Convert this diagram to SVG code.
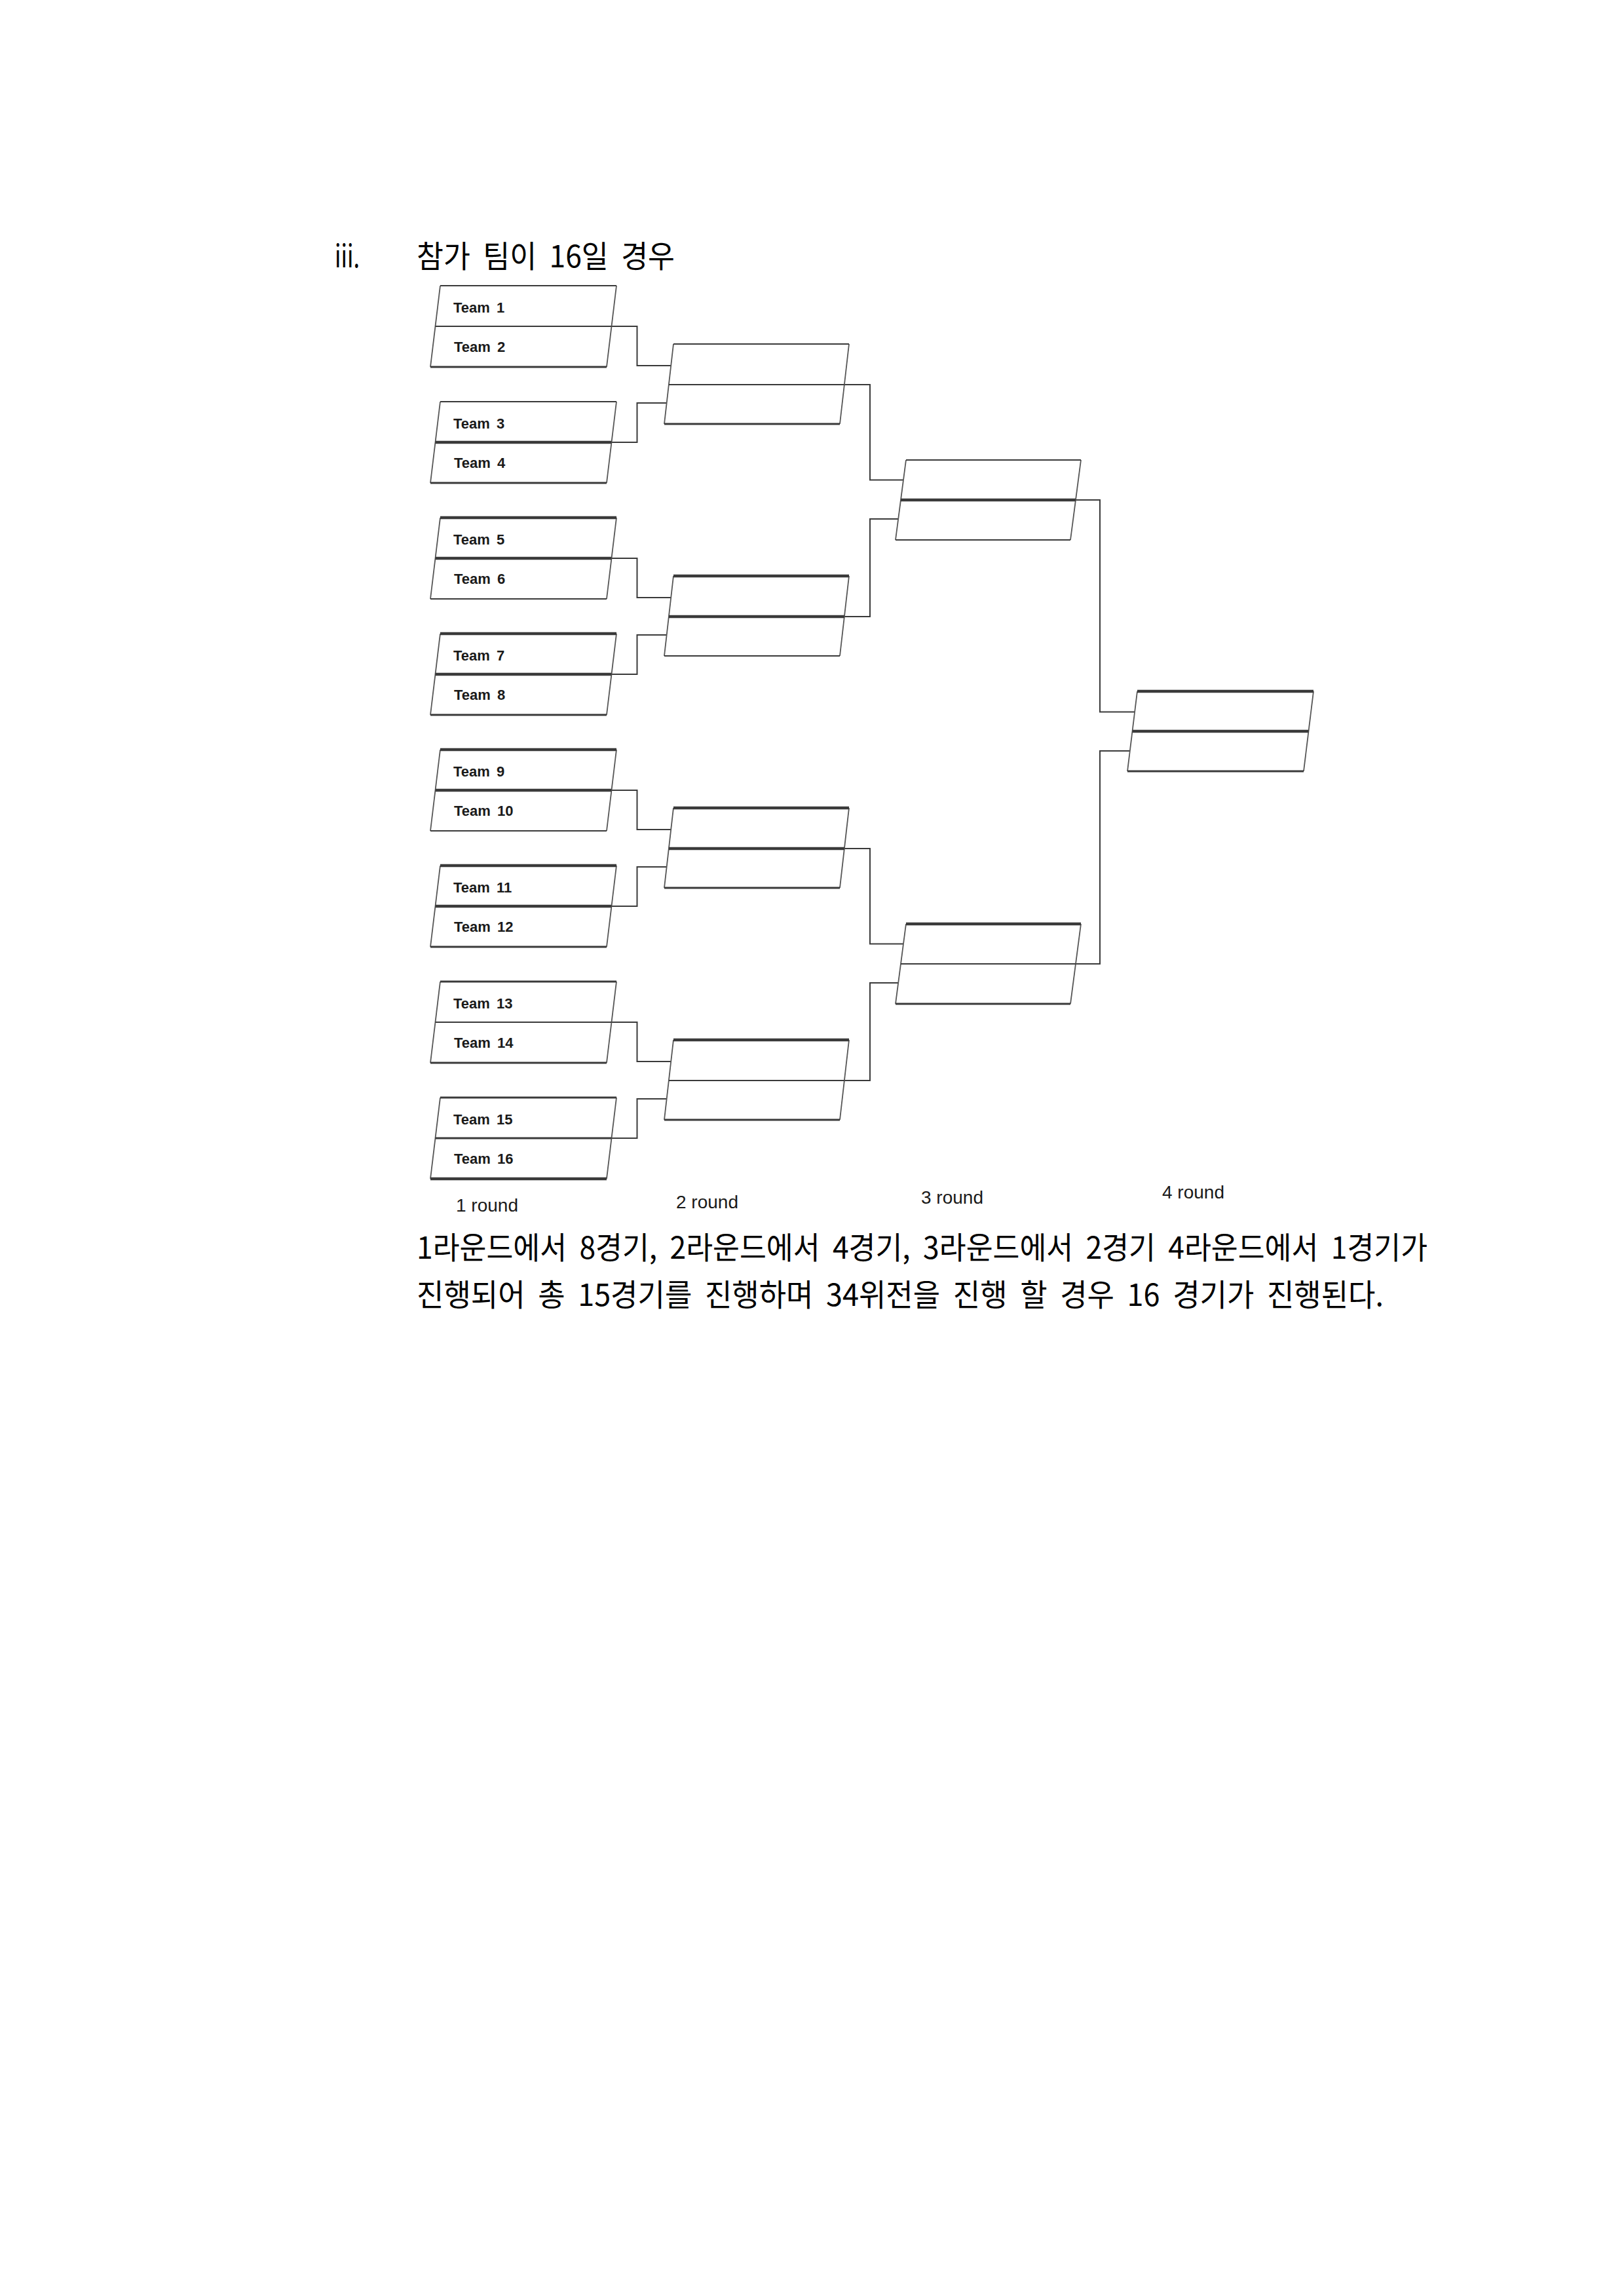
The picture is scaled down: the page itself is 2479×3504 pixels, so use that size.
<svg xmlns="http://www.w3.org/2000/svg" width="2479" height="3504" viewBox="0 0 2479 3504">
<style>
line,path{stroke:#3a3a3a;fill:none}
.n{stroke-width:2}
.m{stroke-width:3}
.t{stroke-width:4.5}
.s{stroke-width:1.8;stroke:#555}
.c{stroke-width:2}
.team{font-family:"Liberation Sans",Arial,sans-serif;font-weight:bold;font-size:22px;word-spacing:4px;fill:#1a1a1a}
.rnd{font-family:"Liberation Sans",Arial,sans-serif;font-size:28px;fill:#1a1a1a}
.ko{font-family:"Noto Sans CJK KR","Noto Sans",sans-serif;font-size:47px;word-spacing:10px;fill:#000}
</style>
<rect width="2479" height="3504" fill="#fff"/>
<g id="heading">
<text class="ko" x="511" y="408" textLength="38" lengthAdjust="spacingAndGlyphs">iii.</text>
<text class="ko" x="636" y="408" textLength="394" lengthAdjust="spacingAndGlyphs">참가 팀이 16일 경우</text>
</g>
<g id="connectors">
<path class="c" d="M933.5,498H972.5V558H1024.2"/>
<path class="c" d="M933.5,675H972.5V615H1017.7"/>
<path class="c" d="M933.5,852H972.5V912H1024.2"/>
<path class="c" d="M933.5,1029H972.5V969H1017.7"/>
<path class="c" d="M933.5,1206H972.5V1266H1024.2"/>
<path class="c" d="M933.5,1383H972.5V1323H1017.7"/>
<path class="c" d="M933.5,1560H972.5V1620H1024.2"/>
<path class="c" d="M933.5,1737H972.5V1677H1017.7"/>
<path class="c" d="M1288.9,587H1328V732.5H1379"/>
<path class="c" d="M1288.9,941H1328V792H1371.2"/>
<path class="c" d="M1288.9,1295H1328V1440.5H1379"/>
<path class="c" d="M1288.9,1649H1328V1500H1371.2"/>
<path class="c" d="M1642,763H1679V1086.5H1732"/>
<path class="c" d="M1642,1471H1679V1146H1725"/>
</g>
<g id="r1-m1">
<line class="s" x1="672" y1="436" x2="657" y2="560"/><line class="s" x1="941" y1="436" x2="926" y2="560"/>
<line class="n" x1="672" y1="436" x2="941" y2="436"/><line class="n" x1="664.5" y1="498" x2="933.5" y2="498"/><line class="m" x1="657" y1="560" x2="926" y2="560"/>
<text class="team" x="692" y="477">Team 1</text><text class="team" x="693" y="537">Team 2</text>
</g>
<g id="r1-m2">
<line class="s" x1="672" y1="613" x2="657" y2="737"/><line class="s" x1="941" y1="613" x2="926" y2="737"/>
<line class="n" x1="672" y1="613" x2="941" y2="613"/><line class="t" x1="664.5" y1="675" x2="933.5" y2="675"/><line class="m" x1="657" y1="737" x2="926" y2="737"/>
<text class="team" x="692" y="654">Team 3</text><text class="team" x="693" y="714">Team 4</text>
</g>
<g id="r1-m3">
<line class="s" x1="672" y1="790" x2="657" y2="914"/><line class="s" x1="941" y1="790" x2="926" y2="914"/>
<line class="t" x1="672" y1="790" x2="941" y2="790"/><line class="t" x1="664.5" y1="852" x2="933.5" y2="852"/><line class="n" x1="657" y1="914" x2="926" y2="914"/>
<text class="team" x="692" y="831">Team 5</text><text class="team" x="693" y="891">Team 6</text>
</g>
<g id="r1-m4">
<line class="s" x1="672" y1="967" x2="657" y2="1091"/><line class="s" x1="941" y1="967" x2="926" y2="1091"/>
<line class="t" x1="672" y1="967" x2="941" y2="967"/><line class="t" x1="664.5" y1="1029" x2="933.5" y2="1029"/><line class="m" x1="657" y1="1091" x2="926" y2="1091"/>
<text class="team" x="692" y="1008">Team 7</text><text class="team" x="693" y="1068">Team 8</text>
</g>
<g id="r1-m5">
<line class="s" x1="672" y1="1144" x2="657" y2="1268"/><line class="s" x1="941" y1="1144" x2="926" y2="1268"/>
<line class="t" x1="672" y1="1144" x2="941" y2="1144"/><line class="t" x1="664.5" y1="1206" x2="933.5" y2="1206"/><line class="n" x1="657" y1="1268" x2="926" y2="1268"/>
<text class="team" x="692" y="1185">Team 9</text><text class="team" x="693" y="1245">Team 10</text>
</g>
<g id="r1-m6">
<line class="s" x1="672" y1="1321" x2="657" y2="1445"/><line class="s" x1="941" y1="1321" x2="926" y2="1445"/>
<line class="t" x1="672" y1="1321" x2="941" y2="1321"/><line class="t" x1="664.5" y1="1383" x2="933.5" y2="1383"/><line class="m" x1="657" y1="1445" x2="926" y2="1445"/>
<text class="team" x="692" y="1362">Team 11</text><text class="team" x="693" y="1422">Team 12</text>
</g>
<g id="r1-m7">
<line class="s" x1="672" y1="1498" x2="657" y2="1622"/><line class="s" x1="941" y1="1498" x2="926" y2="1622"/>
<line class="m" x1="672" y1="1498" x2="941" y2="1498"/><line class="n" x1="664.5" y1="1560" x2="933.5" y2="1560"/><line class="m" x1="657" y1="1622" x2="926" y2="1622"/>
<text class="team" x="692" y="1539">Team 13</text><text class="team" x="693" y="1599">Team 14</text>
</g>
<g id="r1-m8">
<line class="s" x1="672" y1="1675" x2="657" y2="1799"/><line class="s" x1="941" y1="1675" x2="926" y2="1799"/>
<line class="m" x1="672" y1="1675" x2="941" y2="1675"/><line class="m" x1="664.5" y1="1737" x2="933.5" y2="1737"/><line class="t" x1="657" y1="1799" x2="926" y2="1799"/>
<text class="team" x="692" y="1716">Team 15</text><text class="team" x="693" y="1776">Team 16</text>
</g>
<g id="r2-m1">
<line class="s" x1="1028" y1="525" x2="1014" y2="647"/><line class="s" x1="1296" y1="525" x2="1282" y2="647"/>
<line class="n" x1="1028" y1="525" x2="1296" y2="525"/><line class="n" x1="1020.9" y1="587" x2="1288.9" y2="587"/><line class="m" x1="1014" y1="647" x2="1282" y2="647"/>
</g>
<g id="r2-m2">
<line class="s" x1="1028" y1="879" x2="1014" y2="1001"/><line class="s" x1="1296" y1="879" x2="1282" y2="1001"/>
<line class="t" x1="1028" y1="879" x2="1296" y2="879"/><line class="t" x1="1020.9" y1="941" x2="1288.9" y2="941"/><line class="n" x1="1014" y1="1001" x2="1282" y2="1001"/>
</g>
<g id="r2-m3">
<line class="s" x1="1028" y1="1233" x2="1014" y2="1355"/><line class="s" x1="1296" y1="1233" x2="1282" y2="1355"/>
<line class="t" x1="1028" y1="1233" x2="1296" y2="1233"/><line class="t" x1="1020.9" y1="1295" x2="1288.9" y2="1295"/><line class="m" x1="1014" y1="1355" x2="1282" y2="1355"/>
</g>
<g id="r2-m4">
<line class="s" x1="1028" y1="1587" x2="1014" y2="1709"/><line class="s" x1="1296" y1="1587" x2="1282" y2="1709"/>
<line class="t" x1="1028" y1="1587" x2="1296" y2="1587"/><line class="n" x1="1020.9" y1="1649" x2="1288.9" y2="1649"/><line class="m" x1="1014" y1="1709" x2="1282" y2="1709"/>
</g>
<g id="r3-m1">
<line class="s" x1="1383" y1="702" x2="1367" y2="824"/><line class="s" x1="1650" y1="702" x2="1634" y2="824"/>
<line class="n" x1="1383" y1="702" x2="1650" y2="702"/><line class="t" x1="1375" y1="763" x2="1642" y2="763"/><line class="n" x1="1367" y1="824" x2="1634" y2="824"/>
</g>
<g id="r3-m2">
<line class="s" x1="1383" y1="1410" x2="1367" y2="1532"/><line class="s" x1="1650" y1="1410" x2="1634" y2="1532"/>
<line class="t" x1="1383" y1="1410" x2="1650" y2="1410"/><line class="n" x1="1375" y1="1471" x2="1642" y2="1471"/><line class="m" x1="1367" y1="1532" x2="1634" y2="1532"/>
</g>
<g id="r4-m1">
<line class="s" x1="1736" y1="1055" x2="1721" y2="1177"/><line class="s" x1="2005" y1="1055" x2="1990" y2="1177"/>
<line class="t" x1="1736" y1="1055" x2="2005" y2="1055"/><line class="t" x1="1728.5" y1="1116" x2="1997.5" y2="1116"/><line class="m" x1="1721" y1="1177" x2="1990" y2="1177"/>
</g>
<g id="round-labels">
<text class="rnd" x="696" y="1849">1 round</text>
<text class="rnd" x="1032" y="1844">2 round</text>
<text class="rnd" x="1406" y="1837">3 round</text>
<text class="rnd" x="1774" y="1829">4 round</text>
</g>
<g id="description">
<text class="ko" x="636" y="1921" textLength="1543" lengthAdjust="spacingAndGlyphs">1라운드에서 8경기, 2라운드에서 4경기, 3라운드에서 2경기 4라운드에서 1경기가</text>
<text class="ko" x="636" y="1993" textLength="1476" lengthAdjust="spacingAndGlyphs">진행되어 총 15경기를 진행하며 34위전을 진행 할 경우 16 경기가 진행된다.</text>
</g>
</svg>
